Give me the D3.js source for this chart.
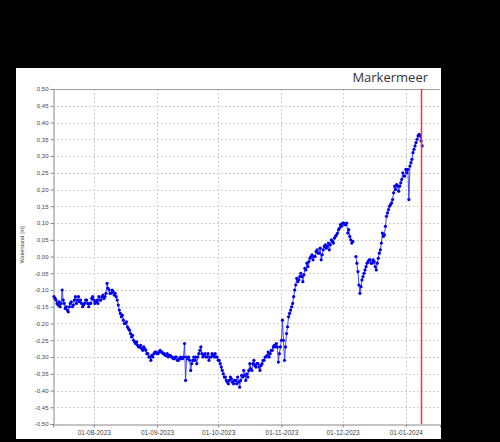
<!DOCTYPE html>
<html><head><meta charset="utf-8">
<script src="https://cdn.jsdelivr.net/npm/d3@7"></script>
<style>html,body{margin:0;padding:0;background:#000;}svg{display:block;}</style>
</head><body>
<svg id="chart" width="500" height="442"></svg>
<script>
const title = "Markermeer";
const yLabel = "Waterstand [m]";
const startDate = "2023-07-12T12:00:00";   // first reading, then one every 12 hours
const domainStart = "2023-07-12T00:00:00";
const domainEnd = "2024-01-17T18:00:00";
const markerDate = "2024-01-08T10:00:00";
const xTickDates = ["2023-08-01","2023-09-01","2023-10-01","2023-11-01","2023-12-01","2024-01-01"];
const yTicks = [0.50,0.45,0.40,0.35,0.30,0.25,0.20,0.15,0.10,0.05,0.00,-0.05,-0.10,-0.15,-0.20,-0.25,-0.30,-0.35,-0.40,-0.45,-0.50];

// two readings per day (12 h apart)
const julValues = [-0.12,-0.125,-0.13,-0.14,-0.145,-0.135,-0.15,-0.14,-0.10,-0.13,-0.14,-0.155,-0.15,-0.16,-0.165,-0.15,-0.14,-0.135,-0.15,-0.145,-0.13,-0.12,-0.14,-0.13,-0.12,-0.135,-0.13,-0.14,-0.15,-0.145,-0.14,-0.13,-0.13,-0.14,-0.15,-0.14,-0.14,-0.125,-0.12,-0.13];
const augValues = [-0.14,-0.135,-0.13,-0.14,-0.12,-0.13,-0.13,-0.12,-0.115,-0.125,-0.12,-0.11,-0.08,-0.095,-0.10,-0.11,-0.11,-0.10,-0.105,-0.115,-0.11,-0.12,-0.13,-0.145,-0.16,-0.17,-0.18,-0.175,-0.19,-0.20,-0.20,-0.195,-0.21,-0.215,-0.22,-0.23,-0.24,-0.235,-0.25,-0.255,-0.26,-0.255,-0.265,-0.27,-0.27,-0.265,-0.275,-0.28,-0.27,-0.275,-0.28,-0.29,-0.29,-0.30,-0.30,-0.31,-0.295,-0.30,-0.29,-0.285,-0.285,-0.29];
const sepValues = [-0.29,-0.285,-0.28,-0.285,-0.285,-0.29,-0.29,-0.295,-0.295,-0.29,-0.30,-0.295,-0.295,-0.30,-0.30,-0.305,-0.305,-0.30,-0.30,-0.31,-0.31,-0.305,-0.30,-0.305,-0.305,-0.30,-0.26,-0.37,-0.30,-0.305,-0.30,-0.31,-0.34,-0.32,-0.31,-0.30,-0.31,-0.30,-0.32,-0.30,-0.29,-0.28,-0.27,-0.29,-0.30,-0.295,-0.29,-0.30,-0.30,-0.29,-0.31,-0.30,-0.30,-0.29,-0.295,-0.30,-0.29,-0.30,-0.30,-0.31];
const octValues = [-0.31,-0.32,-0.33,-0.34,-0.35,-0.36,-0.36,-0.37,-0.375,-0.38,-0.37,-0.36,-0.365,-0.375,-0.38,-0.37,-0.37,-0.38,-0.36,-0.375,-0.39,-0.37,-0.355,-0.36,-0.34,-0.355,-0.37,-0.35,-0.36,-0.34,-0.32,-0.335,-0.34,-0.32,-0.31,-0.325,-0.33,-0.32,-0.32,-0.33,-0.34,-0.325,-0.32,-0.31,-0.31,-0.30,-0.30,-0.295,-0.285,-0.30,-0.29,-0.28,-0.28,-0.27,-0.265,-0.27,-0.26,-0.27,-0.315,-0.29,-0.27,-0.25];
const novValues = [-0.19,-0.25,-0.31,-0.27,-0.23,-0.21,-0.18,-0.17,-0.16,-0.15,-0.14,-0.12,-0.10,-0.085,-0.065,-0.075,-0.07,-0.06,-0.05,-0.06,-0.075,-0.055,-0.035,-0.04,-0.02,-0.03,-0.015,-0.005,0.00,0.005,-0.01,0.00,0.00,0.015,0.02,0.01,0.01,0.025,-0.01,0.005,0.02,0.03,0.035,0.025,0.03,0.04,0.02,0.035,0.05,0.045,0.04,0.055,0.06,0.065,0.07,0.08,0.085,0.095,0.09,0.10];
const decValues = [0.10,0.095,0.095,0.10,0.07,0.08,0.06,0.05,0.04,0.045,null,null,0.00,-0.02,-0.045,-0.085,-0.11,-0.09,-0.07,-0.06,-0.05,-0.04,-0.03,-0.02,-0.015,-0.01,-0.01,-0.02,-0.02,-0.01,-0.015,-0.03,-0.04,-0.02,-0.005,0.01,0.02,0.04,0.07,0.06,0.065,0.09,0.12,0.13,0.14,0.15,0.155,0.16,0.17,0.19,0.21,0.20,0.215,0.21,0.195,0.21,0.22,0.23,0.25,0.24,0.24,0.26];
const janValues = [0.25,0.26,0.17,0.27,0.28,0.29,0.31,0.32,0.33,0.34,0.35,0.36,0.365,0.36,0.345,0.33];

const values = [].concat(julValues, augValues, sepValues, octValues, novValues, decValues, janValues);
const t0 = new Date(startDate);
const data = values.map((v, i) => ({date: d3.timeHour.offset(t0, 12 * i), value: v}));

const svg = d3.select("#chart");
// white panel
svg.append("rect").attr("x",16).attr("y",68).attr("width",425).attr("height",371).attr("fill","#fff");

const m = {left:53, right:440, top:89, bottom:424};
const x = d3.scaleTime().domain([new Date(domainStart), new Date(domainEnd)]).range([m.left, m.right]);
const y = d3.scaleLinear().domain([-0.5, 0.5]).range([m.bottom, m.top]);

// grid
const grid = svg.append("g");
grid.selectAll(".hg").data(yTicks.filter(t => t > -0.5 && t < 0.5)).enter().append("line")
  .attr("x1", m.left).attr("x2", m.right).attr("y1", d => Math.round(y(d))+0.5).attr("y2", d => Math.round(y(d))+0.5)
  .attr("stroke","#d0d0d0").attr("stroke-width",1).attr("stroke-dasharray","2,2");
grid.selectAll(".vg").data(xTickDates).enter().append("line")
  .attr("x1", d => Math.round(x(new Date(d+"T00:00:00")))+0.5).attr("x2", d => Math.round(x(new Date(d+"T00:00:00")))+0.5)
  .attr("y1", m.top).attr("y2", m.bottom)
  .attr("stroke","#d0d0d0").attr("stroke-width",1).attr("stroke-dasharray","2,2");

// top border
svg.append("line").attr("x1",m.left).attr("x2",m.right).attr("y1",m.top+0.5).attr("y2",m.top+0.5).attr("stroke","#a0a0a0");

// axes
const yAxis = d3.axisLeft(y).tickValues(yTicks).tickSize(3).tickPadding(2)
  .tickFormat(d => d3.format(".2f")(d).replace(".", ",").replace("−","-"));
const gy = svg.append("g").attr("transform",`translate(${m.left+0.5},0)`).call(yAxis);
gy.select(".domain").attr("stroke","#888");
gy.selectAll(".tick line").attr("stroke","#888");
gy.selectAll("text").attr("fill","#444").style("font-family","Liberation Sans, Arial, sans-serif").style("font-size","6px");

const xAxis = d3.axisBottom(x).tickValues(xTickDates.map(d => new Date(d+"T00:00:00"))).tickSize(3).tickPadding(3)
  .tickFormat(d3.timeFormat("%d-%m-%Y"));
const gx = svg.append("g").attr("transform",`translate(0,${m.bottom+0.5})`).call(xAxis);
gx.select(".domain").attr("stroke","#888");
gx.selectAll(".tick line").attr("stroke","#888");
gx.selectAll("text").attr("fill","#444").style("font-family","Liberation Sans, Arial, sans-serif").style("font-size","6.5px");

// series
const line = d3.line().defined(d => d.value !== null).x(d => x(d.date)).y(d => y(d.value));
svg.append("path").datum(data).attr("d", line).attr("fill","none").attr("stroke","#3030ff").attr("stroke-width",0.9);
svg.append("g").selectAll("circle").data(data.filter(d => d.value !== null)).enter().append("circle")
  .attr("cx", d => x(d.date)).attr("cy", d => y(d.value)).attr("r",1.6).attr("fill","#0000ee");

// red marker line
const mx = Math.round(x(new Date(markerDate))) + 0.5;
svg.append("line").attr("x1", mx).attr("x2", mx)
  .attr("y1", m.top).attr("y2", m.bottom).attr("stroke","#ff3030").attr("stroke-width",1.5);

// title
svg.append("text").attr("x",428).attr("y",82).attr("text-anchor","end")
  .style("font-family","Open Sans, Noto Sans, sans-serif").style("font-size","13px").attr("fill","#333").text(title);

// y label
svg.append("text").attr("transform","translate(24,245) rotate(-90)").attr("text-anchor","middle")
  .style("font-family","Liberation Sans, Arial, sans-serif").style("font-size","5.5px").attr("fill","#444").text(yLabel);
</script>
</body></html>
